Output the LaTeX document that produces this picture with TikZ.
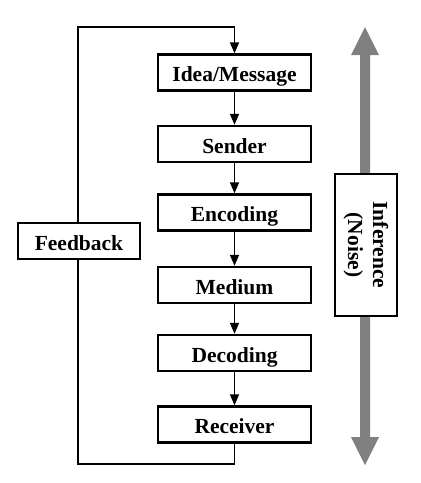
\documentclass[tikz,border=0pt]{standalone}
\usepackage{fontspec}
\setmainfont{Liberation Serif}
\usetikzlibrary{arrows.meta}
\definecolor{arrowgray}{RGB}{128,128,128}
\tikzset{
  stepbox/.style={draw, line width=2.4pt, fill=white, minimum width=153pt, minimum height=36pt,
    inner sep=0pt, text height=18pt, text depth=0pt, font=\fontsize{21.5}{25}\selectfont\bfseries},
  flow/.style={line width=1.5pt, -{Triangle[length=11pt,width=9pt]}},
  fb/.style={line width=1.8pt},
}
\begin{document}
\begin{tikzpicture}[x=1pt,y=-1pt]
\useasboundingbox (0,0) rectangle (421,483);
% gray double arrow
\fill[arrowgray] (365,27) -- (379,55) -- (370,55) -- (370,437) -- (379,437) -- (365,465)
  -- (351,437) -- (360,437) -- (360,55) -- (351,55) -- cycle;
% flow boxes
\node[stepbox] (idea) at (234.5,72.5) {Idea/Message};
\node[stepbox] (sender) at (234.5,144) {Sender};
\node[stepbox] (enc) at (234.5,212.5) {Encoding};
\node[stepbox] (med) at (234.5,285) {Medium};
\node[stepbox] (dec) at (234.5,353) {Decoding};
\node[stepbox] (rec) at (234.5,424.5) {Receiver};
\node[stepbox, minimum width=122pt] (fbk) at (79,241) {Feedback};
\node[draw, line width=2.4pt, fill=white, minimum width=62pt, minimum height=142pt, inner sep=0pt] (inf) at (366,245) {};
\node[rotate=-90, font=\fontsize{21.5}{25}\selectfont\bfseries, align=center, inner sep=0pt] (inftext) at (inf.center) {Inference\\(Noise)};
% arrows
\draw[flow] (idea) -- (sender);
\draw[flow] (sender) -- (enc);
\draw[flow] (enc) -- (med);
\draw[flow] (med) -- (dec);
\draw[flow] (dec) -- (rec);
% feedback loop
\coordinate (bl) at (78,464);
\coordinate (tl) at (78,27);
\draw[fb] (rec.south) -- (rec.south |- bl) -- (bl) -- (fbk.south -| bl);
\draw[fb, -{Triangle[length=11pt,width=9pt]}] (fbk.north -| tl) -- (tl) -- (tl -| idea.north) -- (idea.north);
\end{tikzpicture}
\end{document}
